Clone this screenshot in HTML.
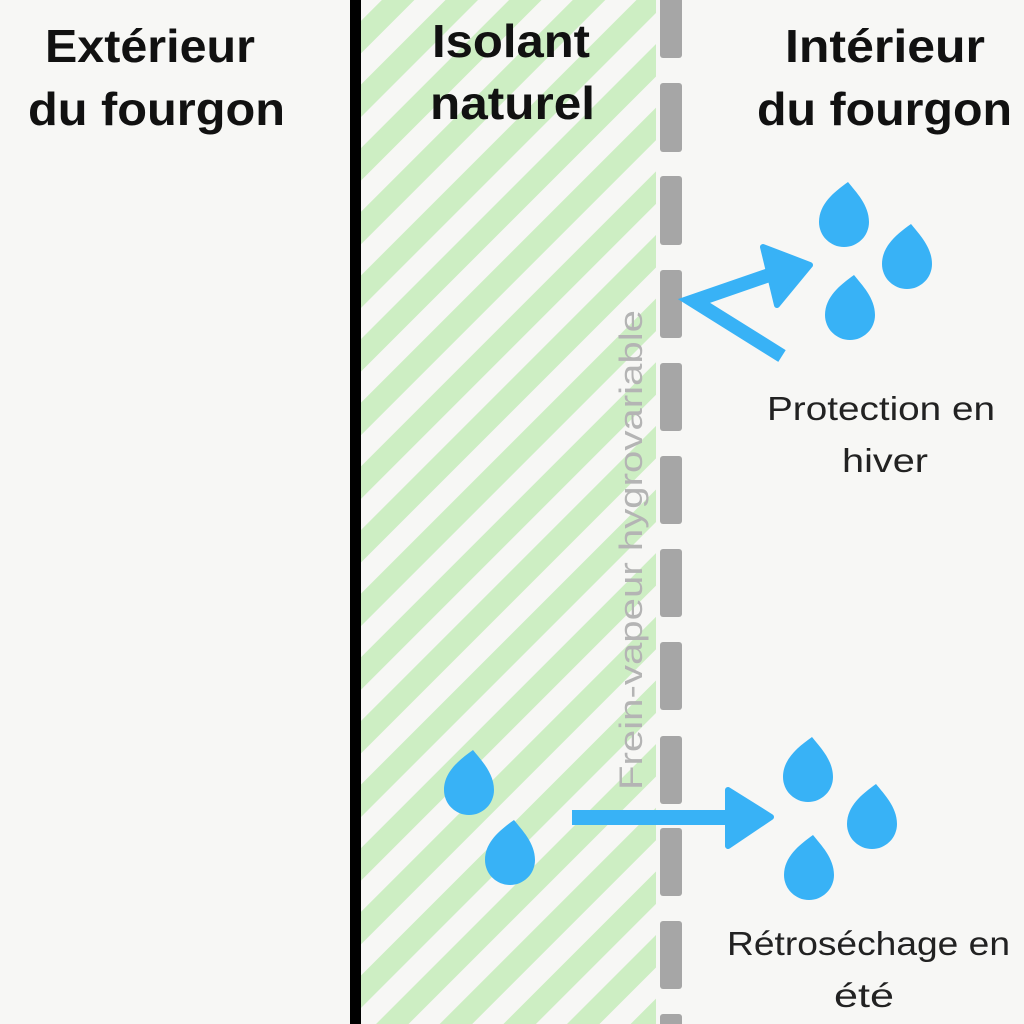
<!DOCTYPE html>
<html><head><meta charset="utf-8"><style>
html,body{margin:0;padding:0;background:#f7f7f5;}
svg{display:block}
</style></head><body>
<svg width="1024" height="1024" viewBox="0 0 1024 1024" xmlns="http://www.w3.org/2000/svg">
<defs>
<pattern id="st" width="45" height="45" patternUnits="userSpaceOnUse" patternTransform="rotate(45)">
<rect x="0" y="0" width="23" height="45" fill="#cdeec3"/>
</pattern>
<path id="drop" d="M4,-38 C12,-28 25,-15 25,2 A25,25 0 1 1 -25,2 C-25,-16 -10,-28 4,-38 Z" fill="#38b2f6"/>
</defs>
<rect width="1024" height="1024" fill="#f7f7f5"/>
<rect x="360" y="0" width="296" height="1024" fill="url(#st)"/>
<rect x="350" y="0" width="11" height="1024" fill="#000"/>
<g fill="#a6a6a6">
<rect x="660" y="-10" width="22" height="68" rx="3"/>
<rect x="660" y="83" width="22" height="69" rx="3"/>
<rect x="660" y="176" width="22" height="69" rx="3"/>
<rect x="660" y="270" width="22" height="68" rx="3"/>
<rect x="660" y="363" width="22" height="68" rx="3"/>
<rect x="660" y="456" width="22" height="68" rx="3"/>
<rect x="660" y="549" width="22" height="68" rx="3"/>
<rect x="660" y="642" width="22" height="68" rx="3"/>
<rect x="660" y="736" width="22" height="68" rx="3"/>
<rect x="660" y="828" width="22" height="68" rx="3"/>
<rect x="660" y="921" width="22" height="68" rx="3"/>
<rect x="660" y="1014" width="22" height="20" rx="3"/>
</g>
<text transform="translate(642,790) rotate(-90)" font-family="Liberation Sans, sans-serif" font-size="32" fill="#b4b4b4" textLength="480" lengthAdjust="spacingAndGlyphs">Frein-vapeur hygrovariable</text>
<g font-family="Liberation Sans, sans-serif" font-weight="bold" font-size="46" fill="#111">
<text x="45" y="62" textLength="210" lengthAdjust="spacingAndGlyphs">Extérieur</text>
<text x="28" y="125" textLength="257" lengthAdjust="spacingAndGlyphs">du fourgon</text>
<text x="432" y="57" textLength="158" lengthAdjust="spacingAndGlyphs">Isolant</text>
<text x="430" y="119" textLength="165" lengthAdjust="spacingAndGlyphs">naturel</text>
<text x="785" y="62" textLength="200" lengthAdjust="spacingAndGlyphs">Intérieur</text>
<text x="757" y="125" textLength="255" lengthAdjust="spacingAndGlyphs">du fourgon</text>
</g>
<g font-family="Liberation Sans, sans-serif" font-size="33" fill="#222">
<text x="767" y="420" textLength="228" lengthAdjust="spacingAndGlyphs">Protection en</text>
<text x="842" y="472" textLength="86" lengthAdjust="spacingAndGlyphs">hiver</text>
<text x="727" y="955" textLength="283" lengthAdjust="spacingAndGlyphs">Rétroséchage en</text>
<text x="834" y="1007" textLength="60" lengthAdjust="spacingAndGlyphs">été</text>
</g>
<g stroke="#38b2f6" stroke-width="14" stroke-linecap="butt" fill="none">
<polyline points="782,356 694,301 775,273"/>
</g>
<polygon points="763,247 810,265 777,305" fill="#38b2f6" stroke="#38b2f6" stroke-width="6" stroke-linejoin="round"/>
<rect x="572" y="810" width="160" height="15" fill="#38b2f6"/>
<polygon points="728,790 771,817 728,846" fill="#38b2f6" stroke="#38b2f6" stroke-width="6" stroke-linejoin="round"/>
<use href="#drop" x="844" y="220"/>
<use href="#drop" x="907" y="262"/>
<use href="#drop" x="850" y="313"/>
<use href="#drop" x="808" y="775"/>
<use href="#drop" x="872" y="822"/>
<use href="#drop" x="809" y="873"/>
<use href="#drop" x="469" y="788"/>
<use href="#drop" x="510" y="858"/>
</svg>
</body></html>
